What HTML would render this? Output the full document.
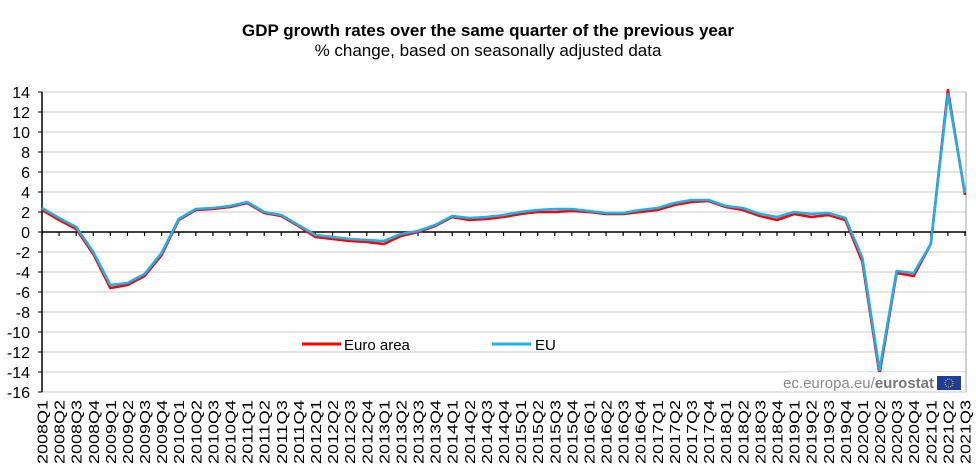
<!DOCTYPE html>
<html><head><meta charset="utf-8">
<style>
html,body{margin:0;padding:0;background:#fff;}
svg{display:block;font-family:"Liberation Sans",Arial,sans-serif;}
</style></head>
<body>
<svg id="chart" width="976" height="470" viewBox="0 0 976 470">
<text x="488" y="36" text-anchor="middle" font-size="17" font-weight="bold">GDP growth rates over the same quarter of the previous year</text>
<text x="488" y="56" text-anchor="middle" font-size="17">% change, based on seasonally adjusted data</text>
<g id="grid"></g>
<g id="axes"></g>
<g id="series"></g>
<g>
<line x1="302" y1="344" x2="341" y2="344" stroke="#ff0000" stroke-width="3"/>
<text x="344" y="350" font-size="15">Euro area</text>
<line x1="492" y1="344" x2="531" y2="344" stroke="#1fb0ea" stroke-width="3"/>
<text x="535" y="350" font-size="15">EU</text>
</g>
<g>
<rect x="790" y="372" width="174" height="19" fill="#fff"/>
<text x="934" y="388" text-anchor="end" font-size="15" fill="#8a8a8a">ec.europa.eu/<tspan font-weight="bold" fill="#777">eurostat</tspan></text>
<rect x="937" y="376" width="24" height="14" fill="#1d3f9a"/>
<circle cx="949" cy="383" r="4" fill="none" stroke="#f5d300" stroke-width="1" stroke-dasharray="1 1.1"/>
</g>
</svg>
<script>
const categories = [];
for (let y = 2008; y <= 2021; y++) for (let q = 1; q <= 4; q++) { if (y === 2021 && q > 3) break; categories.push(y + "Q" + q); }
const euroArea = [2.2,1.2,0.3,-2.2,-5.6,-5.3,-4.4,-2.3,1.2,2.2,2.3,2.5,2.9,1.9,1.6,0.6,-0.5,-0.7,-0.9,-1.0,-1.2,-0.4,0.0,0.6,1.5,1.2,1.3,1.5,1.8,2.0,2.0,2.1,2.0,1.8,1.8,2.0,2.2,2.7,3.0,3.1,2.5,2.2,1.6,1.2,1.8,1.5,1.7,1.2,-3.0,-14.2,-4.1,-4.4,-1.2,14.2,3.7];
const eu = [2.4,1.4,0.5,-2.0,-5.3,-5.1,-4.2,-2.1,1.3,2.3,2.4,2.6,3.0,2.0,1.7,0.7,-0.3,-0.5,-0.7,-0.8,-0.9,-0.2,0.1,0.7,1.6,1.4,1.5,1.7,2.0,2.2,2.3,2.3,2.1,1.9,1.9,2.2,2.4,2.9,3.2,3.2,2.6,2.4,1.8,1.5,2.0,1.8,1.9,1.4,-2.6,-13.8,-3.9,-4.1,-1.2,13.8,3.9];
const yTicks = [14,12,10,8,6,4,2,0,-2,-4,-6,-8,-10,-12,-14,-16];

const NS = "http://www.w3.org/2000/svg";
const X0 = 42, X1 = 965, Y0 = 92, Y1 = 392, YMAX = 14, YMIN = -16;
const xs = i => X0 + (X1 - X0) * i / (categories.length - 1);
const ys = v => Y0 + (YMAX - v) * (Y1 - Y0) / (YMAX - YMIN);
function mk(tag, attrs, parent) { const e = document.createElementNS(NS, tag); for (const k in attrs) e.setAttribute(k, attrs[k]); parent.appendChild(e); return e; }

const grid = document.getElementById("grid"), axes = document.getElementById("axes"), series = document.getElementById("series");
mk("rect", {x: X0, y: Y0, width: 966 - X0, height: Y1 - Y0, fill: "none", stroke: "#a0a0a0", "stroke-width": 1}, grid);
yTicks.forEach(v => {
  const y = ys(v);
  const gl = mk("line", {x1: X0, x2: 966, y1: y, y2: y, stroke: "#c8c8c8", "stroke-width": 1}, grid);
  
  
  mk("line", {x1: X0 - 4, x2: X0, y1: y, y2: y, stroke: "#000"}, axes);
  const t = mk("text", {x: 30, y: y + 6, "text-anchor": "end", "font-size": 16}, axes);
  t.textContent = v;
  
  
});
mk("line", {x1: X0, x2: X0, y1: Y0, y2: Y1, stroke: "#000", "stroke-width": 1.5}, axes);
mk("line", {x1: X0, x2: 966, y1: ys(0), y2: ys(0), stroke: "#000", "stroke-width": 1.5}, axes);
categories.forEach((c, i) => {
  const x = xs(i);
  mk("line", {x1: x, x2: x, y1: ys(0), y2: ys(0) + 4, stroke: "#000", "stroke-width": 1.2}, axes);
  const t = mk("text", {x: 0, y: 0, "text-anchor": "end", "font-size": 15, textLength: 64, lengthAdjust: "spacingAndGlyphs", transform: `translate(${x + 5.5},400) rotate(-90)`}, axes);
  t.textContent = c;
  
  
});
function drawLine(data, color, name) {
  const pts = data.map((v, i) => xs(i).toFixed(1) + "," + ys(v).toFixed(1)).join(" ");
  const p = mk("polyline", {points: pts, fill: "none", stroke: color, "stroke-width": 2.6, "stroke-linejoin": "round"}, series);
  
  
}
drawLine(euroArea, "#ff0000", "euro-area-line");
drawLine(eu, "#1fb0ea", "eu-line");
</script>
</body></html>
